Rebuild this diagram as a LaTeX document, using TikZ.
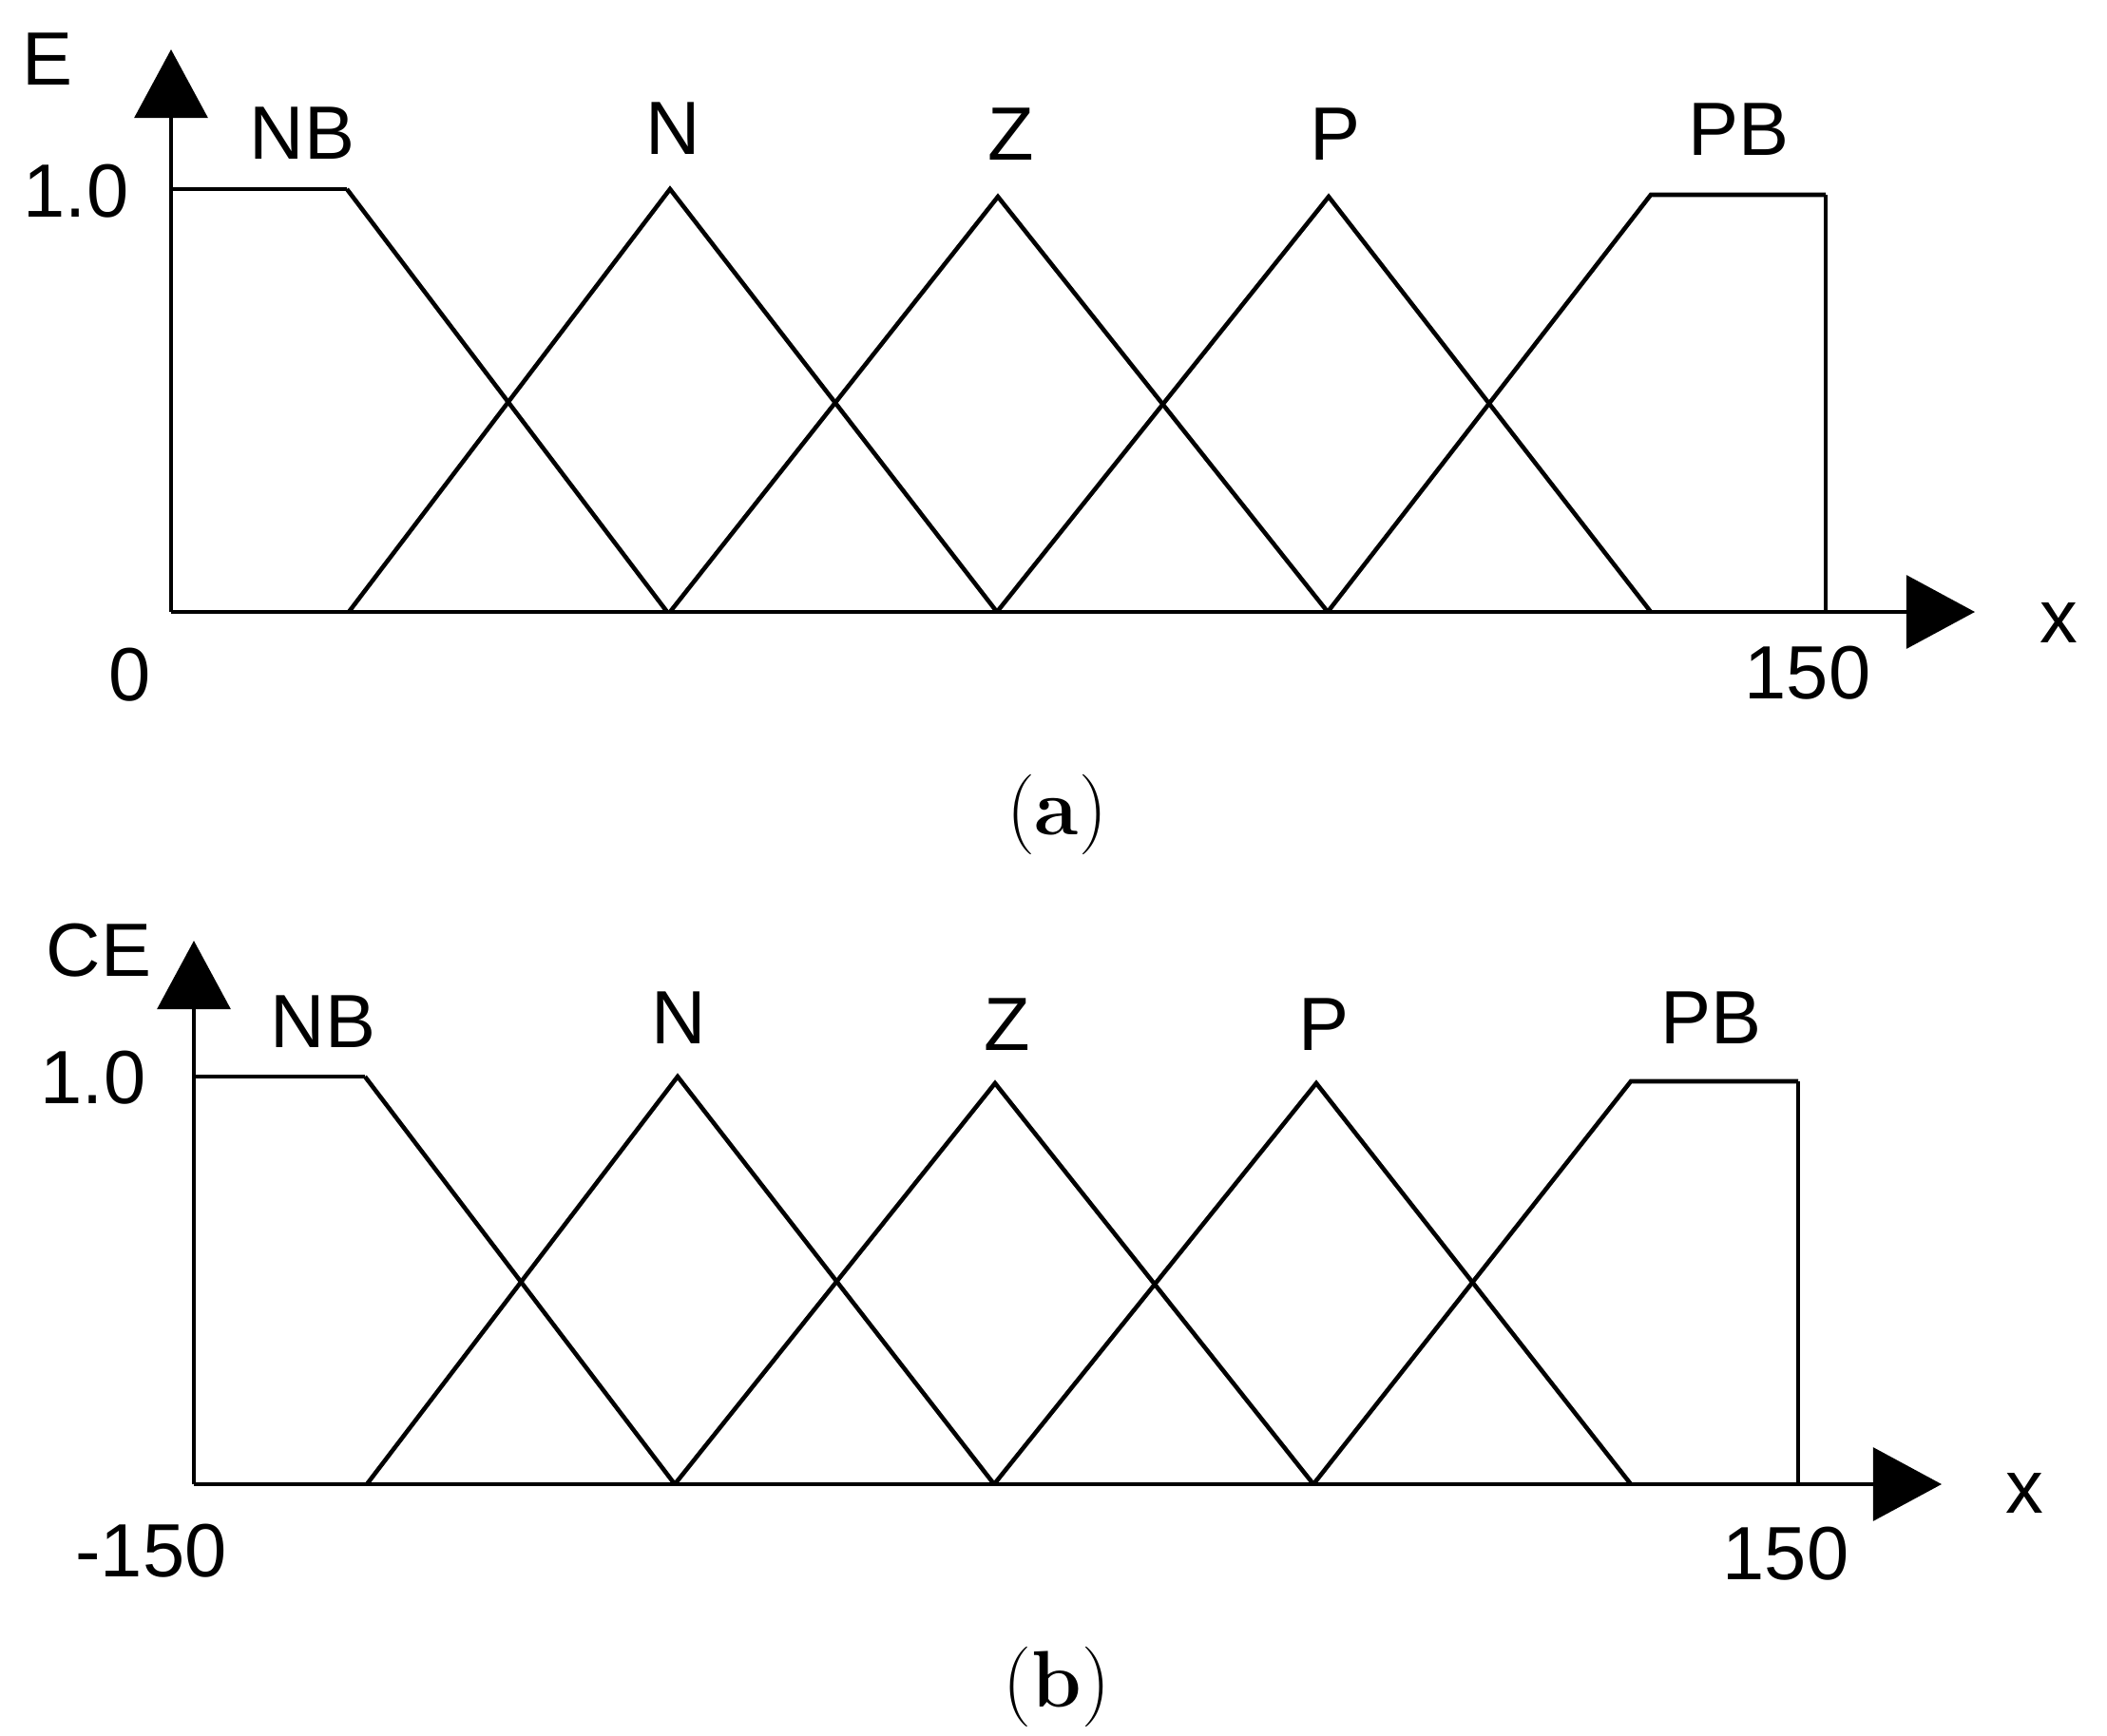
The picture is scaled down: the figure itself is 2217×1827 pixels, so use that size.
\documentclass[tikz,border=0pt]{standalone}
\usepackage{fontspec}
\newfontfamily\arialfont{Liberation Sans}
\usepackage{tikz}
\usetikzlibrary{arrows.meta}
\tikzstyle{axis} = [line width=1.3pt,-{Triangle[width=21.8pt,length=20.5pt]}]
\tikzstyle{mf} = [line width=1.3pt]
\tikzstyle{thinmf} = [line width=0.95pt]
\tikzstyle{lbl} = [inner sep=0pt,font=\arialfont\fontsize{22.6}{27}\selectfont]
\tikzstyle{subcap} = [inner sep=0pt,font=\fontsize{24}{29}\selectfont]

\begin{document}
\begin{tikzpicture}[x=0.01cm,y=-0.01cm]
            \useasboundingbox (0,0) rectangle (2217,1827);
            % (a) error E
            \draw[axis] (180,644) -- (180,52);
            \draw[axis] (180,644) -- (2078,644);
            \draw[thinmf] (180,199) -- (365,199);
            \draw[mf] (365,199) -- (702,644);
            \draw[mf] (367,644) -- (705,199) -- (1049,644);
            \draw[mf] (705,644) -- (1050,207) -- (1397,644);
            \draw[mf] (1049,644) -- (1398,207) -- (1737,644);
            \draw[mf] (1397,644) -- (1737,205) -- (1921,205);
            \draw[thinmf] (1921,205) -- (1921,644);
            \node[lbl] (Ea) at (50,62) {E};
            \node[lbl] (onea) at (80,201) {1.0};
            \node[lbl] (zeroa) at (137,710) {0};
            \node[lbl] (maxa) at (1902,708) {150};
            \node[lbl] (xa) at (2166,655) {x};
            \node[lbl] (NBa) at (318,140) {NB};
            \node[lbl] (Na) at (708,135) {N};
            \node[lbl] (Za) at (1064,141) {Z};
            \node[lbl] (Pa) at (1405,141) {P};
            \node[lbl] (PBa) at (1829,136) {PB};
            \node[subcap] (capa) at (1112,857) {(\textbf{a})};
            % (b) change of error CE
            \draw[axis] (204,1562) -- (204,990);
            \draw[axis] (204,1562) -- (2043,1562);
            \draw[thinmf] (204,1133) -- (384,1133);
            \draw[mf] (384,1133) -- (710,1562);
            \draw[mf] (386,1562) -- (713,1133) -- (1046,1562);
            \draw[mf] (710,1562) -- (1047,1140) -- (1382,1562);
            \draw[mf] (1046,1562) -- (1385,1140) -- (1716,1562);
            \draw[mf] (1382,1562) -- (1716,1138) -- (1892,1138);
            \draw[thinmf] (1892,1138) -- (1892,1562);
            \node[lbl] (CEb) at (104,1000) {CE};
            \node[lbl] (oneb) at (98,1134) {1.0};
            \node[lbl] (minb) at (159,1632) {-150};
            \node[lbl] (maxb) at (1879,1635) {150};
            \node[lbl] (xb) at (2130,1571) {x};
            \node[lbl] (NBb) at (340,1075) {NB};
            \node[lbl] (Nb) at (714,1071) {N};
            \node[lbl] (Zb) at (1060,1078) {Z};
            \node[lbl] (Pb) at (1393,1078) {P};
            \node[lbl] (PBb) at (1800,1071) {PB};
            \node[subcap] (capb) at (1112,1775) {(\textbf{b})};
        \end{tikzpicture}
\end{document}
